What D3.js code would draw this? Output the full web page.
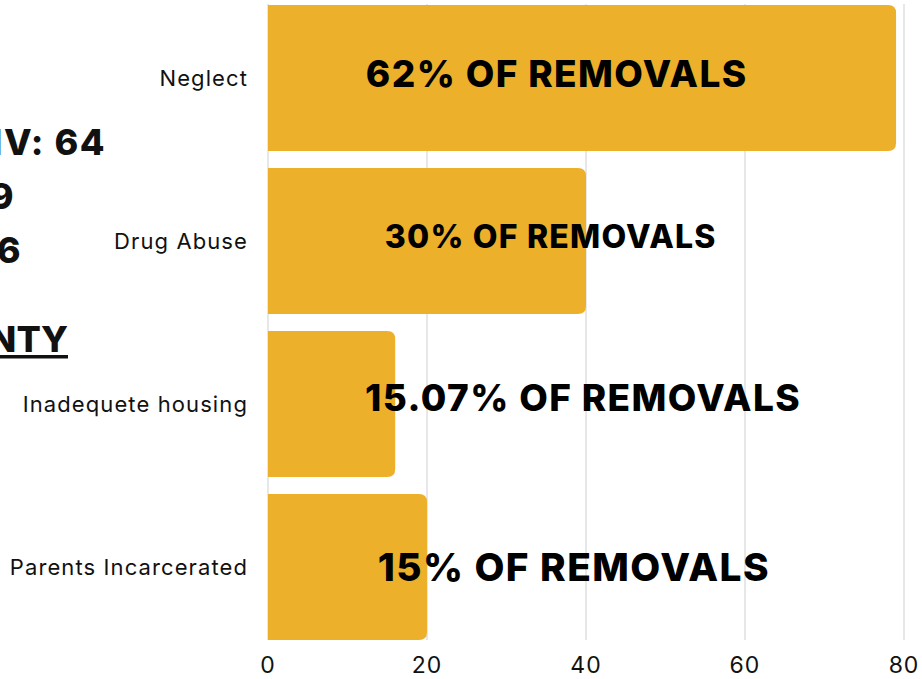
<!DOCTYPE html>
<html><head><meta charset="utf-8">
<script src="https://cdn.jsdelivr.net/npm/d3@7"></script>
<style>
html,body{margin:0;padding:0;background:#fff;overflow:hidden;}
svg{display:block;font-family:Inter, "Open Sans", sans-serif;}
</style></head>
<body>
<svg id="chart" width="922" height="679"></svg>
<script>
const categories = ["Neglect", "Drug Abuse", "Inadequete housing", "Parents Incarcerated"];
const values = [79, 40, 16, 20];
const barLabels = ["62% OF REMOVALS", "30% OF REMOVALS", "15.07% OF REMOVALS", "15% OF REMOVALS"];
const labelStartValues = [12.3, 14.7, 12.2, 13.8];
const labelFontSizes = [37, 32, 37, 38.8];
const labelCapOffsets = [-4.5, -4.5, -6, -0.5];
const xTicks = [0, 20, 40, 60, 80];
const sideLines = ["NV: 64", "9", "6"];
const sideHeading = "NTY";

const svg = d3.select("#chart");
const x = d3.scaleLinear().domain([0, 80]).range([268, 904]);
const y = d3.scaleBand().domain(categories).range([-3.5, 648.5]).paddingInner(0.1043).paddingOuter(0.052);

// side text (clipped off the left edge, as in the source)
const sideY = [155, 209, 263];
const sideX = [106, 15, 22];
svg.selectAll("text.side").data(sideLines).join("text")
  .attr("class", "side")
  .attr("x", (d, i) => sideX[i]).attr("y", (d, i) => sideY[i])
  .attr("text-anchor", "end")
  .attr("font-size", 36).attr("font-weight", 800).attr("letter-spacing", 1.5).attr("fill", "#111")
  .text(d => d);
svg.append("text").attr("x", 68).attr("y", 352).attr("text-anchor", "end")
  .attr("font-size", 36).attr("font-weight", 800).attr("fill", "#111").text(sideHeading);
svg.append("rect").attr("x", 0).attr("y", 355).attr("width", 68).attr("height", 3.5).attr("fill", "#111");

// grid
const g = svg.append("g");
g.selectAll("line.grid").data(xTicks).join("line")
  .attr("x1", d => x(d)).attr("x2", d => x(d))
  .attr("y1", 4).attr("y2", 640)
  .attr("stroke", "#cfcfcf").attr("stroke-width", 1);

// bars with rounded right corners
const r = 8;
function barPath(d, i) {
  const x0 = x(0), x1 = x(d), y0 = y(categories[i]), h = y.bandwidth();
  const rr = Math.min(r, (x1 - x0));
  return `M${x0},${y0}H${x1 - rr}Q${x1},${y0} ${x1},${y0 + rr}V${y0 + h - rr}Q${x1},${y0 + h} ${x1 - rr},${y0 + h}H${x0}Z`;
}
g.selectAll("path.bar").data(values).join("path")
  .attr("class", "bar").attr("d", barPath).attr("fill", "#ECB02B");

// category labels
svg.selectAll("text.cat").data(categories).join("text")
  .attr("x", 248).attr("y", d => y(d) + y.bandwidth() / 2)
  .attr("dy", "0.35em").attr("text-anchor", "end")
  .attr("font-size", 22).attr("letter-spacing", 1.1).attr("font-weight", 400).attr("fill", "#111").text(d => d);

// bar labels
svg.selectAll("text.lbl").data(barLabels).join("text")
  .attr("x", (d, i) => x(labelStartValues[i]))
  .attr("y", (d, i) => y(categories[i]) + y.bandwidth() / 2 + labelCapOffsets[i] + 0.3635 * labelFontSizes[i])
  .attr("font-size", (d, i) => labelFontSizes[i])
  .attr("letter-spacing", (d, i) => 1.4 * labelFontSizes[i] / 37)
  .attr("font-weight", 800).attr("fill", "#000").text(d => d);

// x axis labels
svg.selectAll("text.tick").data(xTicks).join("text")
  .attr("x", d => x(d)).attr("y", 673).attr("text-anchor", "middle")
  .attr("font-size", 23).attr("letter-spacing", 1).attr("fill", "#111").text(d => d);
</script>
</body></html>
